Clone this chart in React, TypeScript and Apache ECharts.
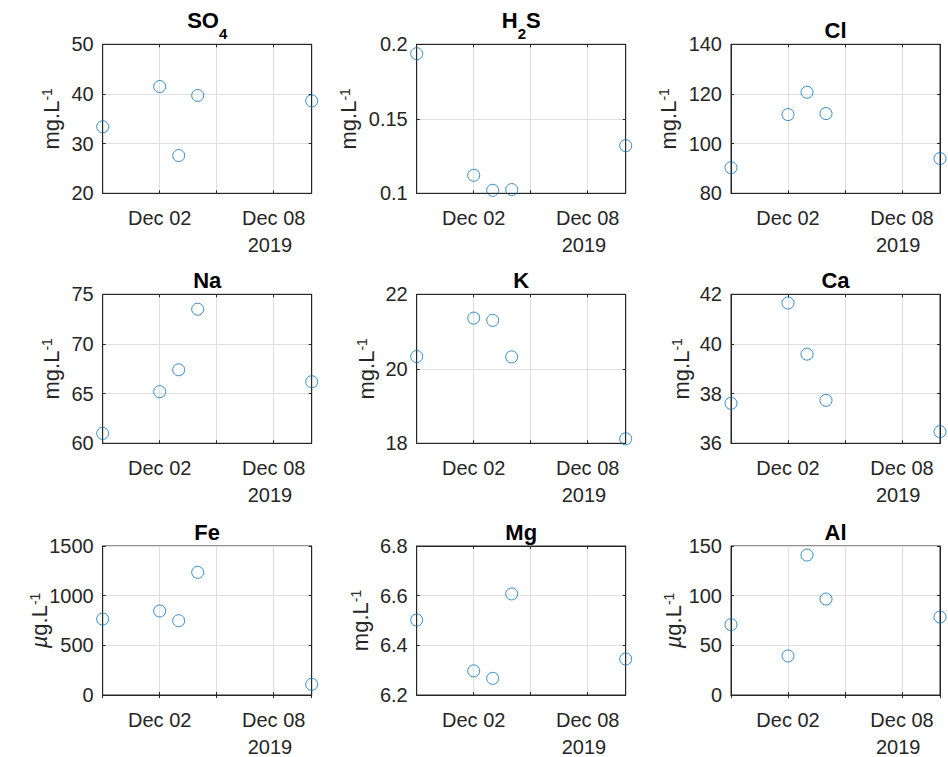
import React, { useEffect, useRef } from 'react';
import * as echarts from 'echarts';

// ---- data ----
const sampleDates = ['2019-11-29', '2019-12-02', '2019-12-03', '2019-12-04', '2019-12-10'];
const xStart = '2019-11-29';
const xEnd = '2019-12-10';
const xLabeledTicks = ['2019-12-02', '2019-12-08'];
const xYearLabel = '2019';
const monthNames = ['Jan', 'Feb', 'Mar', 'Apr', 'May', 'Jun', 'Jul', 'Aug', 'Sep', 'Oct', 'Nov', 'Dec'];

const so4 = [33.4, 41.5, 27.6, 39.7, 38.6];
const h2s = [0.1937, 0.1121, 0.102, 0.1025, 0.132];
const cl = [90.3, 111.7, 120.7, 112.1, 94.0];
const na = [61.0, 65.2, 67.4, 73.5, 66.2];
const k = [20.33, 21.36, 21.3, 20.32, 18.12];
const ca = [37.61, 41.65, 39.59, 37.73, 36.47];
const fe = [765, 846, 748, 1235, 107];
const mg = [6.502, 6.297, 6.267, 6.607, 6.345];
const al = [70.8, 39.3, 140.9, 96.6, 78.5];

// title parts: [text, isSubscript]
const panelTitles: [string, boolean][][] = [
  [['SO', false], ['4', true]],
  [['H', false], ['2', true], ['S', false]],
  [['Cl', false]],
  [['Na', false]],
  [['K', false]],
  [['Ca', false]],
  [['Fe', false]],
  [['Mg', false]],
  [['Al', false]],
];
const panelValues = [so4, h2s, cl, na, k, ca, fe, mg, al];
const panelUnitPrefix = ['mg', 'mg', 'mg', 'mg', 'mg', 'mg', 'µ', 'mg', 'µ'];
const yMin = [20, 0.1, 80, 60, 18, 36, 0, 6.2, 0];
const yMax = [50, 0.2, 140, 75, 22, 42, 1500, 6.8, 150];
const yStep = [10, 0.05, 20, 5, 2, 2, 500, 0.2, 50];

// ---- layout ----
const colLeft = [102.7, 416.7, 731];
const rowTop = [44.3, 294.3, 546];
const plotW = 209;
const plotH = 149;
const yLabelOffset = [51.5, 68, 63, 51.5, 50.5, 50, 63.7, 56.5, 58];
const FONT = 'Liberation Sans, Arial, Helvetica, sans-serif';
const AX = '#262626';
const GRIDC = '#dfdfdf';
const MARK = '#0072BD';
const DAY = 86400000;

export default function App() {
  const ref = useRef<HTMLDivElement>(null);
  useEffect(() => {
    if (!ref.current) return;
    const chart = echarts.init(ref.current, undefined, { renderer: 'svg' });
    const t0 = Date.parse(xStart);
    const t1 = Date.parse(xEnd);
    const labeled = xLabeledTicks.map((d) => Date.parse(d));
    const fmtDate = (v: number) => {
      if (!labeled.some((t) => Math.abs(t - v) < 1000)) return '';
      const d = new Date(v);
      return monthNames[d.getUTCMonth()] + ' ' + String(d.getUTCDate()).padStart(2, '0');
    };
    const fmtNum = (v: number) => String(parseFloat(Number(v).toFixed(6)));

    const grids: any[] = [];
    const xAxes: any[] = [];
    const yAxes: any[] = [];
    const series: any[] = [];
    const titles: any[] = [];
    const graphics: any[] = [];

    for (let i = 0; i < 9; i++) {
      const r = Math.floor(i / 3);
      const c = i % 3;
      const left = colLeft[c];
      const top = rowTop[r];
      grids.push({
        left, top, width: plotW, height: plotH,
        show: true, borderColor: AX, borderWidth: 1, backgroundColor: '#fff',
        containLabel: false,
      });
      const xCommon = {
        gridIndex: i, type: 'value', min: t0, max: t1, interval: 3 * DAY,
        axisLine: { show: true, lineStyle: { color: AX, width: 1 } },
        axisTick: { show: true, inside: true, length: 3, lineStyle: { color: AX, width: 1 } },
      };
      xAxes.push({
        ...xCommon, position: 'bottom',
        axisLabel: { show: true, formatter: fmtDate, fontSize: 20, color: AX, margin: 15, fontFamily: FONT, showMinLabel: true, showMaxLabel: true },
        splitLine: { show: true, lineStyle: { color: GRIDC, width: 1 } },
      });
      xAxes.push({
        ...xCommon, position: 'top',
        axisLabel: { show: false },
        splitLine: { show: false },
      });
      const yCommon = {
        gridIndex: i, type: 'value', min: yMin[i], max: yMax[i], interval: yStep[i],
        axisLine: { show: true, lineStyle: { color: AX, width: 1 } },
        axisTick: { show: true, inside: true, length: 3, lineStyle: { color: AX, width: 1 } },
      };
      yAxes.push({
        ...yCommon, position: 'left',
        axisLabel: { show: true, formatter: fmtNum, fontSize: 20, color: AX, margin: 9, fontFamily: FONT },
        splitLine: { show: true, lineStyle: { color: GRIDC, width: 1 } },
      });
      yAxes.push({
        ...yCommon, position: 'right',
        axisLabel: { show: false },
        splitLine: { show: false },
      });
      series.push({
        type: 'scatter',
        xAxisIndex: 2 * i,
        yAxisIndex: 2 * i,
        clip: false,
        symbol: 'circle',
        symbolSize: 12,
        itemStyle: { color: 'rgba(0,0,0,0)', borderColor: MARK, borderWidth: 1 },
        data: sampleDates.map((d, j) => [Date.parse(d), panelValues[i][j]]),
        z: 5,
      });

      // title
      const parts = panelTitles[i];
      const hasSub = parts.some((p) => p[1]);
      const baseline = hasSub ? top - 16 : top - 6;
      const text = parts.map((p) => (p[1] ? '{s|' + p[0] + '}' : '{n|' + p[0] + '}')).join('');
      titles.push({
        text,
        left: left + plotW / 2,
        top: baseline - 7.6,
        padding: 0,
        textAlign: 'center',
        textVerticalAlign: 'middle',
        textStyle: {
          fontFamily: FONT,
          rich: {
            n: { fontSize: 22, fontWeight: 'bold', color: '#000', fontFamily: FONT, lineHeight: hasSub ? 40 : 24 },
            s: { fontSize: 15, fontWeight: 'bold', color: '#000', fontFamily: FONT, verticalAlign: 'bottom' },
          },
        },
      });

      // y label
      const pre = panelUnitPrefix[i];
      const ytext = pre === 'µ' ? '{mu|µ}{n|g.L}{s|-1}' : '{n|mg.L}{s|-1}';
      graphics.push({
        type: 'text',
        x: left - yLabelOffset[i],
        y: top + plotH / 2,
        rotation: Math.PI / 2,
        style: {
          text: ytext,
          x: 0, y: 0,
          align: 'center', verticalAlign: 'middle',
          textAlign: 'center', textVerticalAlign: 'middle',
          fill: AX,
          fontFamily: FONT,
          rich: {
            n: { fontSize: 22, fill: AX, color: AX, fontFamily: FONT },
            mu: { fontSize: 22, fill: AX, color: AX, fontFamily: FONT, fontStyle: 'italic' },
            s: { fontSize: 14, fill: AX, color: AX, fontFamily: FONT, verticalAlign: 'top' },
          },
        },
      });

      // year label
      graphics.push({
        type: 'text',
        x: left + plotW - 19.5,
        y: top + plotH + 51.7,
        style: {
          text: xYearLabel,
          x: 0, y: 0,
          align: 'right', verticalAlign: 'middle',
          textAlign: 'right', textVerticalAlign: 'middle',
          fill: AX,
          fontSize: 20,
          fontFamily: FONT,
        },
      });
    }

    chart.setOption({
      animation: false,
      backgroundColor: '#fff',
      textStyle: { fontFamily: FONT },
      title: titles,
      grid: grids,
      xAxis: xAxes,
      yAxis: yAxes,
      series,
      graphic: graphics,
    });
    return () => chart.dispose();
  }, []);
  return (
    <div
      ref={ref}
      style={{ position: 'fixed', left: 0, top: 0, width: 948, height: 757, background: '#fff' }}
    />
  );
}
